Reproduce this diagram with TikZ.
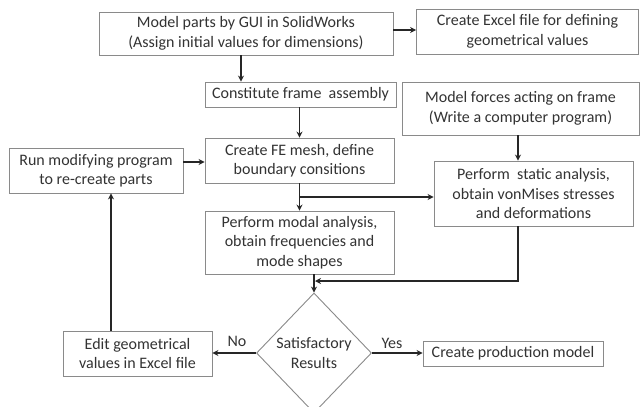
\documentclass[tikz,border=0pt]{standalone}
\usepackage{fontspec}
\setmainfont{Carlito}
\usetikzlibrary{shapes.geometric,arrows.meta}
\definecolor{txt}{HTML}{333333}
\definecolor{edge}{HTML}{8A8A8A}
\tikzset{
  box/.style={draw=edge, line width=0.9pt, fill=white, text=txt, align=center, inner sep=0pt,
    font=\fontsize{16}{19.5}\selectfont},
  arr/.style={draw=black!85, line width=1.3pt, -{Stealth[length=6pt,width=6pt,inset=2pt]}},
  ln/.style={draw=black!85, line width=1.3pt},
  lbl/.style={text=txt, font=\fontsize{16}{19.5}\selectfont, inner sep=0pt}
}
\begin{document}
\begin{tikzpicture}[x=1pt,y=-1pt]
\useasboundingbox (0,0) rectangle (640,407);
\node[box, minimum width=294pt, minimum height=43pt] (b1) at (246,33.5) {Model parts by GUI in SolidWorks\\(Assign initial values for dimensions)};
\node[box, minimum width=222pt, minimum height=45pt] (b2) at (527.5,31.5) {Create Excel file for defining\\geometrical values};
\node[box, minimum width=191pt, minimum height=25pt] (cf) at (300.5,94.5) {Constitute frame\ \ assembly};
\node[box, minimum width=237pt, minimum height=53pt] (mf) at (520.5,108.5) {Model forces acting on frame\\(Write a computer program)};
\node[box, minimum width=189pt, minimum height=45pt] (fe) at (299.5,160.5) {Create FE mesh, define\\boundary consitions};
\node[box, minimum width=174pt, minimum height=45pt] (run) at (96,170.5) {Run modifying program\\to re-create parts};
\node[box, minimum width=199pt, minimum height=65pt] (st) at (533.5,193.5) {Perform\ \ static analysis,\\obtain vonMises stresses\\and deformations};
\node[box, minimum width=189pt, minimum height=63pt] (mo) at (299.5,242.5) {Perform modal analysis,\\obtain frequencies and\\mode shapes};
\node[box, shape=diamond, minimum width=115pt, minimum height=120pt] (dm) at (314,353) {Satisfactory\\Results};
\node[box, minimum width=149pt, minimum height=45pt] (ed) at (137.5,353.5) {Edit geometrical\\values in Excel file};
\node[box, minimum width=180pt, minimum height=25pt] (pm) at (513,353.5) {Create production model};
\coordinate (x1) at (241,0);
\coordinate (x2) at (518,0);
\coordinate (j1) at (299.5,197);
\coordinate (j2) at (312,281);
\coordinate (x3) at (111,0);
\draw[arr] (b1.east |- 0,30) -- (b2.west |- 0,30);
\draw[arr] (b1.south -| x1) -- (cf.north -| x1);
\draw[arr] (cf.south -| fe.north) -- (fe.north);
\draw[arr] (run.east |- 0,162) -- (fe.west |- 0,162);
\draw[arr] (mf.south -| x2) -- (st.north -| x2);
\draw[arr] (fe.south) -- (mo.north);
\draw[arr] (j1) -- (j1 -| st.west);
\draw[arr] (mo.south -| dm.north) -- (dm.north);
\draw[arr] (st.south -| x2) |- ([xshift=3pt]j2);
\draw[arr] (dm.west) -- (ed.east |- dm.west);
\draw[arr] (dm.east) -- (pm.west |- dm.east);
\draw[arr] (ed.north -| x3) -- (run.south -| x3);
\node[lbl] (no) at (237,341) {No};
\node[lbl] (yes) at (392,343) {Yes};
\end{tikzpicture}
\end{document}
